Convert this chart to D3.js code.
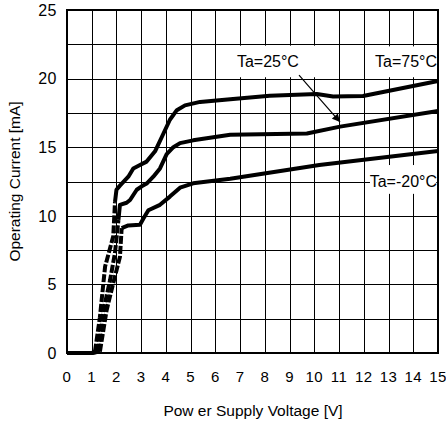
<!DOCTYPE html>
<html>
<head>
<meta charset="utf-8">
<script src="https://cdn.jsdelivr.net/npm/d3@7"></script>
<style>
  body { margin: 0; background: #fff; }
  text { font-family: "Liberation Sans", Arial, sans-serif; fill: #000; }
</style>
</head>
<body>
<script>
// values: [voltage V, current mA]
var curve75 = [[0,0],[1.0,0],[1.13,0.1],[1.33,2.6],[1.54,6.3],[1.87,8.5],[1.94,11.0],[2.0,11.9],
  [2.14,12.2],[2.48,12.85],[2.68,13.45],[2.95,13.7],[3.22,13.95],[3.56,14.7],[3.9,16.0],[4.16,17.0],
  [4.44,17.7],[4.77,18.05],[5.38,18.3],[6.6,18.5],[8.2,18.75],[10.1,18.88],[10.76,18.7],[11.97,18.73],[15,19.83]];
var curve25 = [[0,0],[1.0,0],[1.27,0.1],[1.47,3.1],[1.74,5.3],[1.94,7.3],[2.08,9.7],[2.14,10.8],
  [2.41,10.95],[2.55,11.15],[2.82,11.9],[3.02,12.15],[3.22,12.35],[3.49,12.85],[3.76,13.45],[4.03,14.5],
  [4.3,15.0],[4.57,15.3],[5.1,15.5],[6.6,15.9],[9.7,16.0],[11.04,16.5],[15,17.64]];
var curveM20 = [[0,0],[1.0,0],[1.33,0.1],[1.6,3.1],[1.87,5.1],[2.14,7.0],[2.21,9.1],[2.48,9.3],
  [2.95,9.35],[3.09,9.8],[3.29,10.4],[3.76,10.8],[4.16,11.4],[4.57,12.05],[5.1,12.37],[6.6,12.7],
  [10.2,13.7],[15,14.72]];

var xTicks = d3.range(0, 16, 1);
var yTicks = [0, 5, 10, 15, 20, 25];
var yGrid = d3.range(0, 25.1, 2.5);

var W = 446, H = 423;
var margin = {top: 10, right: 8, bottom: 70, left: 67};
var width = W - margin.left - margin.right,
    height = H - margin.top - margin.bottom;

var svg = d3.select("body").append("svg")
    .attr("width", W)
    .attr("height", H);

var g = svg.append("g")
    .attr("transform", "translate(" + margin.left + "," + margin.top + ")");

var x = d3.scaleLinear().domain([0, 15]).range([0, width]);
var y = d3.scaleLinear().domain([0, 25]).range([height, 0]);

// grid
g.selectAll(".vgrid").data(xTicks).enter().append("line")
    .attr("x1", d => Math.round(x(d)) + 0.5).attr("x2", d => Math.round(x(d)) + 0.5)
    .attr("y1", 0).attr("y2", height)
    .attr("stroke", "#000").attr("stroke-width", 1);
g.selectAll(".hgrid").data(yGrid).enter().append("line")
    .attr("x1", 0).attr("x2", width)
    .attr("y1", d => Math.round(y(d)) + 0.5).attr("y2", d => Math.round(y(d)) + 0.5)
    .attr("stroke", "#000").attr("stroke-width", 1);

// white label boxes that hide grid
function box(v0, v1, i0, i1) {
  g.append("rect")
    .attr("x", x(v0)).attr("y", y(i1))
    .attr("width", x(v1) - x(v0)).attr("height", y(i0) - y(i1))
    .attr("fill", "#fff");
}
box(6.71, 10.5, 20.1, 22.4);
box(12.25, 14.93, 20.1, 22.35);
box(12.25, 14.93, 11.6, 13.7);

// curves: steep start looks broken up in the original, flat part solid
var line = d3.line().x(d => x(d[0])).y(d => y(d[1]));
[curve75, curve25, curveM20].forEach(function(c) {
  var k = c.findIndex(d => d[1] >= 9);
  g.append("path")
    .attr("d", line(c.slice(0, 3)))
    .attr("fill", "none").attr("stroke", "#000").attr("stroke-width", 4);
  g.append("path")
    .attr("d", line(c.slice(2, k + 1)))
    .attr("fill", "none").attr("stroke", "#000").attr("stroke-width", 4)
    .attr("stroke-dasharray", "8,2");
  g.append("path")
    .attr("d", line(c.slice(k)))
    .attr("fill", "none").attr("stroke", "#000").attr("stroke-width", 4)
    .attr("stroke-linejoin", "round");
});

// frame
g.append("rect")
    .attr("x", 0).attr("y", 0)
    .attr("width", width).attr("height", height)
    .attr("fill", "none").attr("stroke", "#000").attr("stroke-width", 2);

// tick labels
g.selectAll(".xt").data(xTicks).enter().append("text")
    .attr("x", d => x(d)).attr("y", height + 29)
    .attr("text-anchor", "middle")
    .attr("font-size", 15)
    .attr("letter-spacing", 0.5)
    .text(d => d);
g.selectAll(".yt").data(yTicks).enter().append("text")
    .attr("x", -10).attr("y", d => y(d))
    .attr("dy", "0.36em")
    .attr("text-anchor", "end")
    .attr("font-size", 16)
    .attr("letter-spacing", 0.5)
    .text(d => d);

// axis titles
svg.append("text")
    .attr("x", 253).attr("y", 416)
    .attr("text-anchor", "middle")
    .attr("font-size", 15.5)
    .text("Pow er Supply Voltage [V]");
svg.append("text")
    .attr("transform", "translate(20," + (margin.top + height / 2) + ") rotate(-90)")
    .attr("text-anchor", "middle")
    .attr("font-size", 15.5)
    .text("Operating Current [mA]");

// annotations
g.append("text").attr("x", x(6.87)).attr("y", y(20.85)).attr("font-size", 16).text("Ta=25°C");
g.append("text").attr("x", x(15) - 1).attr("y", y(20.85)).attr("text-anchor", "end").attr("font-size", 16).text("Ta=75°C");
g.append("text").attr("x", x(15) - 1).attr("y", y(12.12)).attr("text-anchor", "end").attr("font-size", 16).text("Ta=-20°C");

svg.append("defs").append("marker")
    .attr("id", "arr")
    .attr("viewBox", "0 0 10 10")
    .attr("refX", 10).attr("refY", 5)
    .attr("markerWidth", 10).attr("markerHeight", 8)
    .attr("markerUnits", "userSpaceOnUse")
    .attr("orient", "auto")
    .append("path").attr("d", "M0,0L10,5L0,10Z").attr("fill", "#000");

g.append("line")
    .attr("x1", x(9.38)).attr("y1", y(20.26))
    .attr("x2", x(11.04)).attr("y2", y(16.83))
    .attr("stroke", "#000").attr("stroke-width", 1.2)
    .attr("marker-end", "url(#arr)");
</script>
</body>
</html>
